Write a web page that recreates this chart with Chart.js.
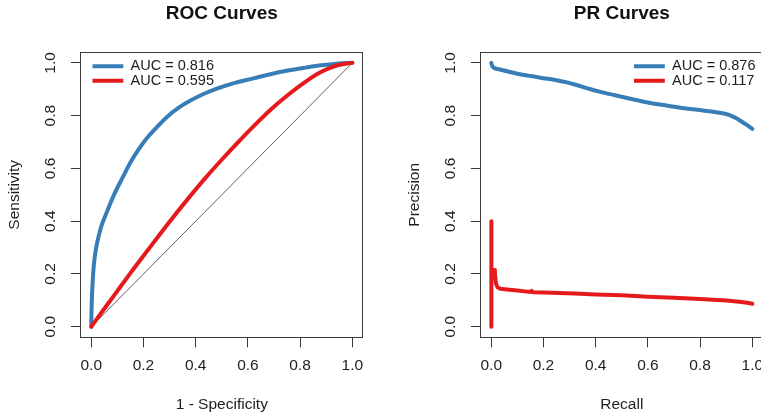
<!DOCTYPE html>
<html>
<head>
<meta charset="utf-8">
<script src="https://cdn.jsdelivr.net/npm/chart.js@4.4.1/dist/chart.umd.min.js"></script>
<style>
  html, body { margin: 0; padding: 0; background: #ffffff; }
  #wrap { position: relative; width: 761px; height: 419px; overflow: hidden; background: #ffffff; }
  canvas { position: absolute; top: 0; }
</style>
</head>
<body>
<div id="wrap">
  <canvas id="roc" width="400" height="419" style="left:0px"></canvas>
  <canvas id="pr" width="400" height="419" style="left:400px"></canvas>
</div>
<script>
// ---------------- data ----------------
const axisTicks = [0, 0.2, 0.4, 0.6, 0.8, 1.0];
const axisTickLabels = ["0.0", "0.2", "0.4", "0.6", "0.8", "1.0"];

const panelTitles = ["ROC Curves", "PR Curves"];
const rocAxisTitles = ["1 - Specificity", "Sensitivity"];
const prAxisTitles = ["Recall", "Precision"];

const rocLegend = ["AUC = 0.816", "AUC = 0.595"];
const prLegend = ["AUC = 0.876", "AUC = 0.117"];

// ROC curve, model A (blue)
const rocBlueFPR = [0, 0.001, 0.003, 0.006, 0.01, 0.018, 0.029, 0.04, 0.055, 0.07, 0.087, 0.12, 0.15, 0.18, 0.215, 0.25, 0.29, 0.335, 0.38, 0.43, 0.484, 0.55, 0.625, 0.69, 0.753, 0.82, 0.881, 0.94, 1.0];
const rocBlueTPR = [0, 0.06, 0.12, 0.18, 0.235, 0.295, 0.346, 0.385, 0.423, 0.46, 0.5, 0.565, 0.622, 0.67, 0.717, 0.755, 0.795, 0.83, 0.857, 0.882, 0.903, 0.924, 0.942, 0.958, 0.971, 0.982, 0.991, 0.997, 1.0];

// ROC curve, model B (red)
const rocRedFPR = [0, 0.04, 0.087, 0.15, 0.215, 0.3, 0.378, 0.44, 0.497, 0.56, 0.625, 0.69, 0.753, 0.82, 0.881, 0.94, 1.0];
const rocRedTPR = [0, 0.055, 0.118, 0.203, 0.288, 0.398, 0.494, 0.567, 0.63, 0.697, 0.763, 0.825, 0.878, 0.928, 0.966, 0.99, 1.0];

// chance diagonal
const diagX = [0, 1];
const diagY = [0, 1];

// PR curve, model A (blue)
const prBlueRecall = [0, 0.002, 0.006, 0.012, 0.03, 0.06, 0.1, 0.15, 0.2, 0.25, 0.29, 0.33, 0.38, 0.43, 0.47, 0.52, 0.6, 0.66, 0.73, 0.79, 0.85, 0.88, 0.91, 0.935, 0.96, 0.98, 1.0];
const prBluePrecision = [1.0, 0.993, 0.985, 0.98, 0.976, 0.968, 0.959, 0.95, 0.942, 0.934, 0.926, 0.915, 0.9, 0.887, 0.878, 0.867, 0.85, 0.84, 0.829, 0.822, 0.815, 0.81, 0.803, 0.792, 0.777, 0.764, 0.75];

// PR curve, model B (red)
const prRedRecall = [0, 0, 0.001, 0.004, 0.008, 0.011, 0.014, 0.018, 0.024, 0.035, 0.06, 0.09, 0.12, 0.15, 0.155, 0.16, 0.2, 0.26, 0.32, 0.4, 0.5, 0.6, 0.7, 0.8, 0.9, 0.95, 0.98, 1.0];
const prRedPrecision = [0, 0.4, 0.2, 0.19, 0.205, 0.215, 0.2, 0.165, 0.15, 0.144, 0.141, 0.138, 0.135, 0.132, 0.136, 0.131, 0.13, 0.128, 0.126, 0.122, 0.119, 0.114, 0.11, 0.105, 0.099, 0.095, 0.091, 0.087];

// ---------------- styling ----------------
const BLUE = "#377EB8";
const RED = "#E41A1C";
const AXIS = "#3a3a3a";
const TEXT = "#1e1e1e";
const FONT = "'Liberation Sans', Arial, Helvetica, sans-serif";

Chart.defaults.font.family = FONT;
Chart.defaults.color = TEXT;

const pts = (xs, ys) => xs.map((x, i) => ({ x: x, y: ys[i] }));

const alignPx = (p) => Math.round(p - 0.5) + 0.5;

const framePlugin = {
  id: 'frame',
  afterDatasetsDraw(chart) {
    const { ctx, chartArea: a } = chart;
    ctx.save();
    ctx.strokeStyle = AXIS;
    ctx.lineWidth = 1;
    const l = alignPx(a.left), t = alignPx(a.top), r = alignPx(a.right), b = alignPx(a.bottom);
    ctx.strokeRect(l, t, r - l, b - t);
    ctx.restore();
  }
};

const legendPlace = {
  id: 'legendPlace',
  afterLayout(chart, args, opts) {
    const lg = chart.legend;
    if (!lg) return;
    const a = chart.chartArea;
    const left = opts.anchor === 'right' ? a.right - opts.dx : a.left + opts.dx;
    const top = a.top + opts.dy;
    const w = lg.width, h = lg.height;
    lg.left = left; lg.right = left + w;
    lg.top = top; lg.bottom = top + h;
  }
};

function lineDs(label, data, color, width, order, smooth) {
  const ds = {
    label: label,
    data: data,
    borderColor: color,
    backgroundColor: color,
    borderWidth: width,
    pointRadius: 0,
    pointHoverRadius: 0,
    tension: 0,
    fill: false,
    borderCapStyle: 'round',
    borderJoinStyle: 'round',
    order: order
  };
  if (smooth) ds.cubicInterpolationMode = 'monotone';
  return ds;
}

function axis(pos, titleText, isY) {
  const cfg = {
    type: 'linear',
    position: pos,
    min: -0.04,
    max: 1.04,
    afterBuildTicks: (s) => { s.ticks = axisTicks.map(v => ({ value: v })); },
    ticks: {
      autoSkip: false,
      callback: (v, i) => axisTickLabels[i],
      font: { size: 15.5 },
      color: TEXT,
      padding: 9
    },
    grid: {
      display: true,
      drawOnChartArea: false,
      drawTicks: true,
      tickLength: 10,
      color: AXIS,
      tickColor: AXIS,
      lineWidth: 1
    },
    border: { display: true, color: AXIS, width: 1 },
    title: {
      display: true,
      text: titleText,
      font: { size: 15.5 },
      color: TEXT
    }
  };
  if (isY) {
    cfg.ticks.minRotation = 90;
    cfg.ticks.maxRotation = 90;
    cfg.ticks.crossAlign = 'center';
    cfg.ticks.padding = 9.5;
    cfg.title.padding = { top: 5.5, bottom: 0 };
    cfg.afterFit = (s) => { s.width = 80.8; };
  } else {
    cfg.ticks.maxRotation = 0;
    cfg.ticks.minRotation = 0;
    cfg.title.padding = { top: 0, bottom: 4.7 };
    cfg.afterFit = (s) => { s.height = 81.7; };
  }
  return cfg;
}

function makeChart(id, title, xTitle, yTitle, datasets, legendOpts) {
  return new Chart(document.getElementById(id), {
    type: 'line',
    data: { datasets: datasets },
    plugins: [framePlugin, legendPlace],
    options: {
      responsive: false,
      animation: false,
      devicePixelRatio: 1,
      events: [],
      layout: { padding: { left: 0, right: 37.2, top: 0, bottom: 0 } },
      scales: {
        x: axis('bottom', xTitle, false),
        y: axis('left', yTitle, true)
      },
      plugins: {
        title: {
          display: true,
          text: title,
          fullSize: false,
          color: '#111111',
          font: { size: 19, weight: 'bold' },
          padding: { top: 2.5, bottom: 27.0 }
        },
        legend: {
          display: true,
          position: 'chartArea',
          align: 'start',
          labels: {
            usePointStyle: true,
            pointStyle: 'line',
            pointStyleWidth: 31,
            padding: 0,
            color: TEXT,
            font: { size: 14.5 },
            filter: (item) => item.text !== '',
            sort: (a, b) => a.datasetIndex - b.datasetIndex
          }
        },
        legendPlace: legendOpts,
        tooltip: { enabled: false }
      }
    }
  });
}

makeChart('roc', panelTitles[0], rocAxisTitles[0], rocAxisTitles[1], [
  lineDs(rocLegend[0], pts(rocBlueFPR, rocBlueTPR), BLUE, 4, 2, true),
  lineDs(rocLegend[1], pts(rocRedFPR, rocRedTPR), RED, 4, 1, true),
  lineDs('', pts(diagX, diagY), '#5f5f5f', 1, 3, false)
], { anchor: 'left', dx: 11.5, dy: 6.8 });

makeChart('pr', panelTitles[1], prAxisTitles[0], prAxisTitles[1], [
  lineDs(prLegend[0], pts(prBlueRecall, prBluePrecision), BLUE, 4, 2, true),
  lineDs(prLegend[1], pts(prRedRecall, prRedPrecision), RED, 4, 1, false)
], { anchor: 'right', dx: 129, dy: 6.8 });
</script>
</body>
</html>
